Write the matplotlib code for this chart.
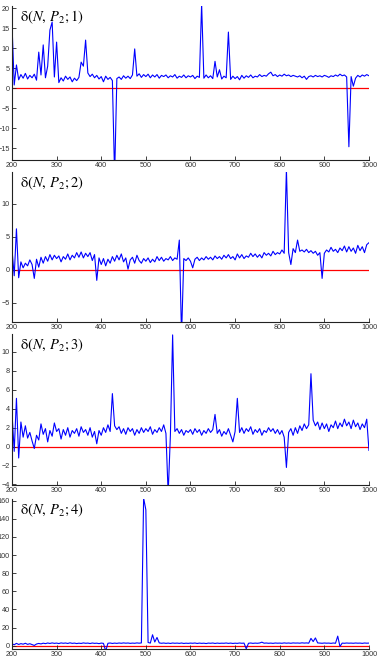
from __future__ import annotations

import matplotlib

matplotlib.use("Agg")
import matplotlib.pyplot as plt
import numpy as np

OUT_FILE = "out.png"
BLUE = "#0000ff"
RED = "#ff0000"
TICK_COLOR = "#333333"

# N grid (step 5) shared by every panel
N_VALUES = np.arange(200, 1001, 5)

DELTA_K1 = [
    16.0, 0.8, 5.8, 2.1, 3.4, 2.5, 3.7, 2.3, 3.2, 2.6,
    3.5, 2.0, 9.0, 3.3, 10.8, 2.6, 5.5, 14.5, 16.5, 2.8,
    11.5, 1.4, 2.6, 1.8, 3.0, 2.2, 2.8, 1.6, 2.5, 1.9,
    2.7, 6.5, 5.5, 12.0, 3.8, 2.9, 3.5, 2.6, 3.2, 2.3,
    2.9, 1.6, 3.0, 2.2, 2.7, 1.9, -22.0, 2.4, 2.8, 2.2,
    3.1, 2.5, 3.0, 2.4, 3.3, 9.8, 3.0, 3.6, 2.7, 3.4,
    2.9, 3.5, 2.6, 3.3, 2.8, 3.4, 2.5, 3.2, 2.9, 3.3,
    2.6, 3.1, 2.8, 3.4, 2.5, 3.0, 2.7, 3.3, 2.6, 3.1,
    2.8, 3.2, 2.4, 3.0, 2.7, 21.0, 2.5, 3.3, 2.6, 3.1,
    2.4, 6.7, 2.8, 4.6, 2.3, 3.0, 2.6, 14.0, 2.2, 3.0,
    2.4, 2.9, 2.1, 3.2, 2.5, 3.1, 2.7, 3.3, 2.6, 3.0,
    2.8, 3.4, 2.9, 3.2, 3.0, 3.6, 4.0, 3.1, 3.4, 2.9,
    3.3, 3.0, 3.5, 3.1, 3.3, 2.9, 3.2, 3.0, 2.8, 3.1,
    2.6, 3.0, 2.2, 2.9, 3.1, 2.8, 3.2, 2.9, 3.1, 2.8,
    3.2, 3.0, 2.7, 3.1, 2.9, 3.3, 3.0, 3.5, 3.1, 3.3,
    2.8, -14.6, 2.9, 0.5, 2.5, 3.2, 2.8, 3.3, 3.0, 3.4,
    3.1,
]

DELTA_K2 = [
    3.1, -0.9, 6.2, -1.2, 1.2, 0.3, 1.0, 0.6, 1.5, 0.8,
    -1.3, 1.6, 0.4, 1.9, 1.0, 2.0, 1.3, 2.3, 1.5, 2.2,
    1.7, 2.1, 1.2, 2.0, 1.6, 2.4, 1.5, 2.2, 1.8, 2.6,
    1.9, 2.7, 1.8, 2.5, 2.0, 2.6, 1.4, 2.3, -1.6, 1.8,
    0.8, 1.7, 0.6, 1.6, 1.0, 2.0, 1.3, 2.2, 1.5, 2.4,
    1.2, 1.8, 0.1, 1.5, 1.9, 1.0, 2.2, 1.4, 1.0, 1.7,
    1.3, 1.8, 1.1, 1.6, 1.2, 2.0, 1.4, 1.9, 1.3, 1.7,
    1.5, 2.0, 1.4, 1.8, 1.6, 4.5, -10.0, 1.7, 1.4, 1.8,
    1.3, 0.3, 1.6, 1.9, 1.4, 1.8, 1.5, 2.0, 1.6, 1.9,
    1.5, 2.1, 1.7, 2.0, 1.6, 2.2, 1.8, 2.3, 1.7, 2.0,
    1.5, 2.4, 1.8, 2.3, 1.7, 2.1, 1.9, 2.5, 2.0, 2.4,
    1.9, 2.3, 1.8, 2.6, 2.2, 2.5, 2.1, 2.8, 2.3, 2.6,
    2.4, 3.0, 2.5, 15.2, 2.6, 0.8, 3.2, 2.6, 4.5, 2.8,
    3.0, 2.7, 3.1, 2.6, 2.9, 2.5, 2.8, 2.2, 2.6, -1.3,
    2.5, 3.0, 2.7, 3.4, 2.8, 3.1, 2.6, 3.3, 2.9, 3.6,
    2.7, 3.5, 2.8, 3.3, 2.5, 3.7, 2.9, 3.5, 2.6, 3.8,
    4.1,
]

DELTA_K3 = [
    3.6, -0.5, 5.1, -1.2, 2.6, 1.0, 2.2, 0.9, 1.5, 0.6,
    -0.2, 1.2, 0.7, 2.4, 1.3, 1.9, 0.5, 1.7, 1.1, 2.5,
    1.6, 1.9, 0.8, 1.8, 1.2, 2.0, 1.0, 1.7, 1.4, 1.9,
    1.1, 2.1, 1.5, 1.8, 1.2, 2.0, 1.0, 1.6, 0.3, 1.7,
    1.2, 2.0, 1.5, 2.3, 1.6, 5.6, 2.2, 1.8, 2.1, 1.4,
    1.9, 1.3, 2.0, 1.6, 1.9, 1.2, 1.8, 1.4, 2.0, 1.5,
    1.9, 1.6, 2.1, 1.3, 1.8, 1.5, 2.0, 1.6, 2.3, 1.4,
    -5.0, 1.2, 11.8, 1.6, 1.9, 1.4, 1.8, 1.2, 1.7, 1.5,
    1.8, 1.3, 1.9, 1.5, 1.8, 1.2, 1.7, 1.4, 1.9, 1.5,
    1.8, 3.4, 1.4, 1.8, 1.1, 1.6, 1.3, 1.9, 1.2, 0.5,
    1.6, 5.1, 1.5, 2.0, 1.4, 1.9, 1.6, 2.1, 1.3, 1.8,
    1.5, 1.9, 1.2, 1.7, 1.5, 2.0, 1.6, 1.9, 1.4, 1.8,
    1.3, 1.7, 1.0, -2.2, 1.5, 1.9, 1.2, 2.0, 1.4, 2.2,
    1.7, 2.4, 1.9, 2.3, 7.7, 2.8, 2.2, 2.6, 1.8, 2.5,
    1.9, 2.4, 1.6, 2.3, 2.0, 2.7, 1.9, 2.5, 2.1, 2.9,
    2.2, 2.6, 1.9, 2.8, 2.1, 2.5, 1.8, 2.4, 2.0, 2.9,
    -0.4,
]

DELTA_K4 = [
    2.0, 1.0, 2.5, 1.3, 2.2, 1.6, 2.6, 1.4, 2.1, 1.2,
    0.2, 1.8, 2.4, 1.9, 2.7, 2.2, 2.9, 2.4, 3.0, 2.5,
    2.8, 2.3, 3.0, 2.6, 2.9, 2.4, 3.1, 2.5, 2.8, 2.3,
    2.7, 2.4, 3.0, 2.6, 2.8, 2.3, 2.9, 2.5, 2.7, 2.2,
    2.8, 2.5, -6.0, 2.6, 2.9, 2.4, 2.8, 2.5, 2.9, 2.6,
    3.0, 2.7, 2.9, 2.5, 2.8, 2.6, 3.0, 2.7, 3.0, 163.0,
    150.0, 3.5, 2.8, 12.0, 4.0, 9.0, 3.0, 2.6, 2.9, 2.5,
    2.8, 2.4, 2.9, 2.6, 2.8, 2.5, 2.9, 2.4, 2.7, 2.5,
    2.8, 2.6, 2.9, 2.4, 2.8, 2.5, 2.7, 2.3, 2.8, 2.6,
    2.9, 2.4, 2.8, 2.5, 2.7, 2.6, 2.9, 2.5, 2.8, 2.4,
    2.7, 2.5, 2.9, 2.6, 2.8, -3.5, 2.6, 2.9, 2.5, 2.8,
    2.6, 2.9, 3.8, 2.7, 2.9, 2.6, 2.8, 2.5, 2.9, 2.7,
    2.8, 2.6, 3.0, 2.7, 2.9, 2.6, 3.0, 2.8, 2.9, 2.7,
    3.1, 2.8, 3.0, 2.7, 8.0, 4.5, 8.5, 3.0, 2.8, 2.6,
    2.9, 2.7, 2.8, 2.5, 2.9, 2.6, 10.5, -1.0, 2.8, 2.6,
    2.9, 2.7, 2.8, 2.6, 2.9, 2.7, 2.8, 2.5, 2.9, 2.7,
    2.8,
]

PANELS = [
    # (series, k, ylim, yticks, axes rect in figure fraction)
    (DELTA_K1, 1, (-17.9, 20.5), [-15, -10, -5, 0, 5, 10, 15, 20], [0.0317, 0.7576, 0.9444, 0.2333]),
    (DELTA_K2, 2, (-7.9, 14.8), [-5, 0, 5, 10], [0.0317, 0.5121, 0.9444, 0.2273]),
    (DELTA_K3, 3, (-4.05, 11.9), [-4, -2, 0, 2, 4, 6, 8, 10], [0.0317, 0.2652, 0.9444, 0.2288]),
    (DELTA_K4, 4, (-3.7, 162), [0, 20, 40, 60, 80, 100, 120, 140, 160], [0.0317, 0.0167, 0.9444, 0.2273]),
]
X_TICKS = [200, 300, 400, 500, 600, 700, 800, 900, 1000]


def draw_panel(ax: plt.Axes, values: list[float], k: int, ylim, yticks) -> None:
    ax.plot([200, 1000], [0, 0], color=RED, linewidth=0.9, zorder=1)
    ax.plot(N_VALUES, values, color=BLUE, linewidth=0.8, zorder=2)
    ax.set_xlim(200, 1000)
    ax.set_ylim(*ylim)
    ax.set_xticks(X_TICKS)
    ax.set_yticks(yticks)
    for side in ["top", "right"]:
        ax.spines[side].set_visible(False)
    for side in ["left", "bottom"]:
        ax.spines[side].set_linewidth(0.8)
        ax.spines[side].set_color("#222222")
    ax.tick_params(direction="in", length=3, width=0.6, labelsize=5.2,
                   labelcolor=TICK_COLOR, color="#222222", pad=1.5)
    # upright delta, italic N and P, as in the source figure
    ax.text(0.022, 0.985, rf"$\mathrm{{δ}}\left(N,\,P_2;{k}\right)$", transform=ax.transAxes,
            ha="left", va="top", fontsize=10.5)


def main() -> None:
    plt.rcParams["mathtext.fontset"] = "stix"
    plt.rcParams["font.family"] = ["Liberation Sans", "DejaVu Sans"]
    fig = plt.figure(figsize=(3.78, 6.6), dpi=100)
    for values, k, ylim, yticks, rect in PANELS:
        ax = fig.add_axes(rect)
        draw_panel(ax, values, k, ylim, yticks)
    fig.savefig(OUT_FILE, dpi=100)
    plt.close(fig)


if __name__ == "__main__":
    main()
